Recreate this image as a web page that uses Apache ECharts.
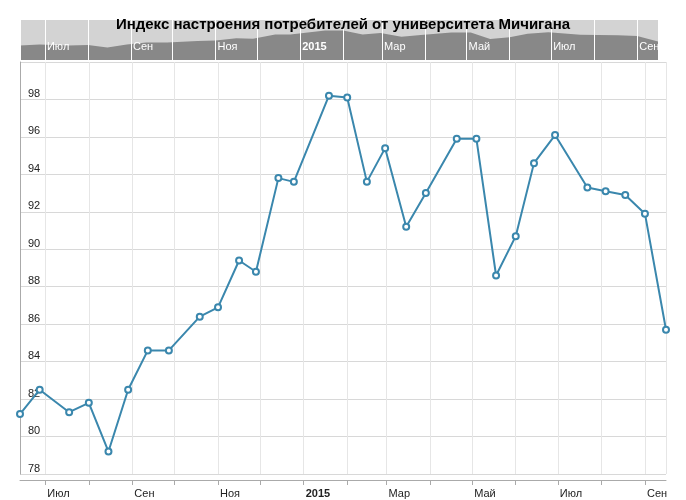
<!DOCTYPE html>
<html><head><meta charset="utf-8">
<script src="https://cdn.jsdelivr.net/npm/echarts@6/dist/echarts.min.js"></script>
<style>html,body{margin:0;padding:0;background:#fff}#c{width:686px;height:500px}</style>
</head><body><div id="c"></div>
<script>
const dates = ['2014-06-13','2014-06-27','2014-07-18','2014-08-01','2014-08-15','2014-08-29','2014-09-12','2014-09-27','2014-10-19','2014-11-01','2014-11-16','2014-11-28','2014-12-14','2014-12-25','2015-01-19','2015-02-01','2015-02-15','2015-02-28','2015-03-15','2015-03-29','2015-04-20','2015-05-04','2015-05-18','2015-06-01','2015-06-14','2015-06-29','2015-07-22','2015-08-04','2015-08-18','2015-09-01','2015-09-16'];
const values = [81.2,82.5,81.3,81.8,79.2,82.5,84.6,84.6,86.4,86.9,89.4,88.8,93.8,93.6,98.2,98.1,93.6,95.4,91.2,93.0,95.9,95.9,88.6,90.7,94.6,96.1,93.3,93.1,92.9,91.9,85.7];
const monthNames = ['Янв','Фев','Мар','Апр','Май','Июн','Июл','Авг','Сен','Окт','Ноя','Дек'];
const yTicks = [78,80,82,84,86,88,90,92,94,96,98];

const data = dates.map((d,i)=>[d, values[i]]);
const xmin = +new Date('2014-06-13'), xmax = +new Date('2015-09-16');
function fmt(v){ const d=new Date(v); if(d.getDate()!==1) return ''; const m=d.getMonth(); if(m%2===1) return ''; if(m===0) return '{b|'+d.getFullYear()+'}'; return monthNames[m]; }
const chart = echarts.init(document.getElementById('c'));
chart.setOption({
  animation:false,
  title:{text:'Индекс настроения потребителей от университета Мичигана',left:'center',top:12,textStyle:{fontFamily:'Liberation Sans',fontSize:15,fontWeight:'bold',color:'#000'},z:10},
  grid:[{left:20,right:20,top:62,bottom:26},{left:20,right:28,top:20,height:40,z:0}],
  xAxis:[
    {type:'time',gridIndex:0,min:xmin,max:xmax,splitNumber:16,offset:6,
     axisLine:{lineStyle:{color:'#aaa'}},axisTick:{show:true,length:5,lineStyle:{color:'#aaa'}},
     axisLabel:{formatter:fmt,align:'left',padding:[0,0,0,2],color:'#222',fontFamily:'Liberation Sans',fontSize:11,hideOverlap:false,
       rich:{b:{fontWeight:'bold',fontFamily:'Liberation Sans',fontSize:11,color:'#222'}}},
     splitLine:{show:true,lineStyle:{color:'#e6e6e6'}}},
    {type:'time',gridIndex:1,min:xmin,max:xmax,splitNumber:16,z:10,
     axisLine:{show:false},axisTick:{show:false},
     axisLabel:{formatter:fmt,inside:true,align:'left',padding:[0,0,0,2],color:'#fff',fontFamily:'Liberation Sans',fontSize:11,
       rich:{b:{fontWeight:'bold',fontFamily:'Liberation Sans',fontSize:11,color:'#fff'}}},
     splitLine:{show:true,lineStyle:{color:'#fff',width:1}}}
  ],
  yAxis:[
    {type:'value',gridIndex:0,min:78,max:100,interval:2,
     axisLine:{show:true,lineStyle:{color:'#aaa'}},axisTick:{show:false},
     axisLabel:{inside:true,showMaxLabel:false,color:'#222',fontFamily:'Liberation Sans',fontSize:11,verticalAlign:'bottom',margin:8,
       formatter:v=>yTicks.includes(v)?String(v):''},
     splitLine:{lineStyle:{color:'#d8d8d8'}}},
    {type:'value',gridIndex:1,min:65,max:110,show:true,axisLabel:{show:false},axisLine:{show:false},axisTick:{show:false},splitLine:{show:false},
     splitArea:{show:true,areaStyle:{color:['#d3d3d3']}}}
  ],
  series:[
    {type:'line',xAxisIndex:1,yAxisIndex:1,data:data,symbol:'none',lineStyle:{width:0},areaStyle:{color:'#888',opacity:1},z:1},
    {type:'line',xAxisIndex:0,yAxisIndex:0,data:data,symbol:'circle',symbolSize:6,
     itemStyle:{color:'#fff',borderColor:'#3a87ad',borderWidth:2},lineStyle:{color:'#3a87ad',width:2},z:5}
  ]
});
</script></body></html>
